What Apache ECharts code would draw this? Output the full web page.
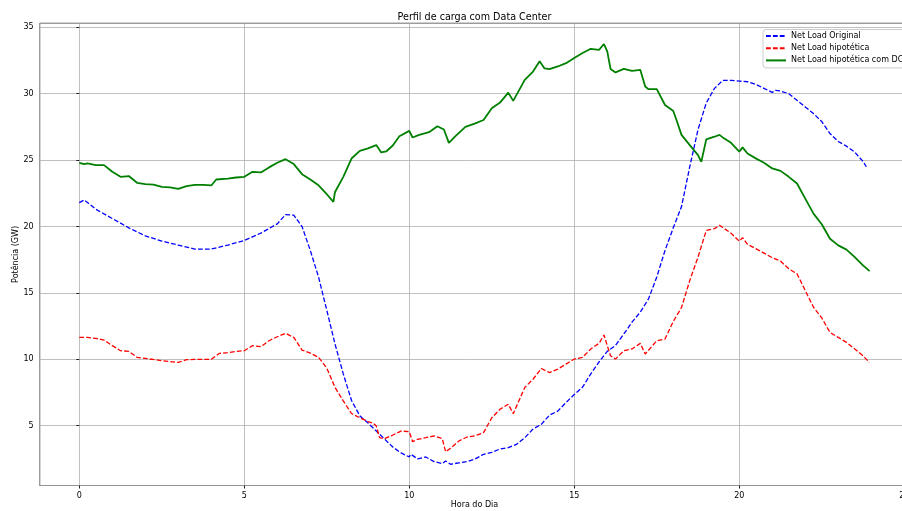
<!DOCTYPE html>
<html>
<head>
<meta charset="utf-8">
<script src="https://cdn.jsdelivr.net/npm/echarts@6/dist/echarts.min.js"></script>
<style>
html,body{margin:0;padding:0;background:#fff;}
#chart{width:902px;height:511px;}
</style>
</head>
<body>
<div id="chart"></div>
<script>
// ---- Data ----
const titleText = 'Perfil de carga com Data Center';
const xAxisName = 'Hora do Dia';
const yAxisName = 'Potência (GW)';
const seriesNames = ['Net Load Original', 'Net Load hipotética', 'Net Load hipotética com DC'];

const hoursOriginal = [0,0.15,0.5,1,1.5,2,2.5,3,3.5,4,4.5,5,5.5,6,6.25,6.5,6.75,7,7.25,7.5,7.75,8,8.25,8.5,8.75,9,9.25,9.5,9.75,10,10.05,10.25,10.5,10.75,11,11.1,11.25,11.5,11.75,12,12.25,12.5,12.75,13,13.25,13.5,13.75,14,14.25,14.5,14.75,15,15.25,15.5,15.75,16,16.25,16.5,16.75,17,17.25,17.5,17.75,18,18.25,18.5,18.75,19,19.25,19.5,19.75,20,20.25,20.5,20.75,21,21.1,21.25,21.5,21.75,22,22.25,22.5,22.75,23,23.25,23.5,23.75,23.85];
const loadOriginal = [21.8,22.0,21.3,20.6,19.9,19.3,18.9,18.6,18.3,18.3,18.6,18.95,19.5,20.2,20.9,20.85,20.0,18.2,16.2,13.7,11.15,8.9,6.9,5.75,5.2,4.6,4.0,3.4,2.95,2.65,2.85,2.5,2.65,2.3,2.15,2.35,2.1,2.2,2.3,2.5,2.85,3.0,3.25,3.35,3.6,4.1,4.75,5.1,5.8,6.1,6.75,7.35,7.9,8.9,9.8,10.6,11.05,11.9,12.8,13.55,14.55,16.2,18.2,19.9,21.5,24.5,27.3,29.3,30.4,31.0,31.0,30.95,30.9,30.7,30.4,30.1,30.25,30.2,30.0,29.5,29.0,28.5,27.9,27.0,26.4,26.05,25.6,24.9,24.5];

const hoursHypo = [0,0.25,0.5,0.75,1,1.25,1.5,1.75,2,2.5,3,3.25,3.5,4,4.25,4.5,4.75,5,5.25,5.5,5.75,6,6.25,6.5,6.75,7,7.25,7.5,7.75,8,8.25,8.5,8.75,8.9,9,9.1,9.25,9.5,9.75,10,10.1,10.25,10.5,10.75,11,11.1,11.25,11.5,11.75,12,12.25,12.5,12.75,13,13.15,13.5,13.75,14,14.25,14.5,14.75,15,15.25,15.5,15.75,15.9,16,16.1,16.25,16.5,16.75,17,17.15,17.5,17.75,18,18.25,18.5,18.75,19,19.25,19.4,19.5,19.75,20,20.1,20.25,20.5,20.75,21,21.25,21.5,21.75,22,22.25,22.5,22.75,23,23.25,23.5,23.75,23.94];
const loadHypo = [11.65,11.65,11.58,11.45,11.03,10.65,10.6,10.15,10.07,9.9,9.77,9.97,10.0,10.0,10.45,10.5,10.6,10.65,11.03,10.95,11.4,11.7,11.96,11.65,10.7,10.47,10.15,9.34,7.88,6.87,5.92,5.6,5.31,5.2,4.98,4.1,4.03,4.3,4.6,4.55,3.8,3.98,4.1,4.23,4.03,3.04,3.3,3.85,4.15,4.25,4.48,5.6,6.24,6.62,5.9,7.88,8.5,9.31,9.0,9.26,9.64,10.02,10.15,10.78,11.2,11.83,11.03,10.27,10.02,10.65,10.78,11.2,10.4,11.4,11.53,12.85,13.9,15.94,17.7,19.7,19.84,20.1,19.92,19.5,18.9,19.16,18.66,18.33,18.0,17.65,17.4,16.82,16.44,15.18,13.92,13.12,12.03,11.65,11.28,10.78,10.27,9.77];

const hoursDC = [0,0.15,0.25,0.5,0.75,1,1.25,1.5,1.75,2,2.25,2.5,2.75,3,3.25,3.5,3.75,4,4.15,4.5,4.75,5,5.25,5.5,5.75,6,6.25,6.5,6.75,7,7.25,7.5,7.7,7.75,8,8.25,8.5,8.75,9,9.15,9.3,9.5,9.7,10,10.1,10.3,10.6,10.85,11.05,11.2,11.4,11.7,12,12.25,12.5,12.75,13,13.15,13.5,13.75,13.95,14.1,14.25,14.5,14.75,15,15.25,15.5,15.75,15.9,16,16.1,16.25,16.5,16.75,17,17.15,17.25,17.5,17.75,18,18.1,18.25,18.5,18.75,18.85,19,19.25,19.4,19.5,19.75,20,20.1,20.25,20.5,20.75,21,21.25,21.5,21.75,22,22.25,22.5,22.75,23,23.25,23.5,23.75,23.95];
const loadDC = [24.8,24.7,24.75,24.62,24.62,24.12,23.74,23.8,23.29,23.19,23.16,22.98,22.94,22.83,23.04,23.13,23.13,23.09,23.54,23.61,23.69,23.74,24.12,24.07,24.45,24.8,25.07,24.7,23.94,23.54,23.1,22.43,21.85,22.6,23.74,25.12,25.7,25.88,26.13,25.58,25.65,26.1,26.8,27.2,26.7,26.9,27.1,27.55,27.3,26.3,26.8,27.5,27.77,28.02,28.9,29.33,30.08,29.46,31.04,31.67,32.45,31.9,31.85,32.05,32.3,32.68,33.06,33.38,33.3,33.74,33.18,31.85,31.6,31.87,31.72,31.8,30.54,30.34,30.34,29.15,28.7,28.0,26.9,26.13,25.38,24.87,26.56,26.76,26.9,26.71,26.3,25.63,25.96,25.5,25.13,24.8,24.37,24.19,23.74,23.24,22.1,20.97,20.17,19.08,18.58,18.26,17.7,17.07,16.64];

const xMin = -1.2, xMax = 25.15, yMin = 0.5, yMax = 35.3;

// ---- Chart ----
const zip = (xs, ys) => xs.map((x, i) => [x, ys[i]]);
const chart = echarts.init(document.getElementById('chart'), null, {renderer: 'canvas'});
const font = 'DejaVu Sans';
const fs = 8;
const gridLeft = 39.7, gridTop = 23.3, gridW = 869.5, gridH = 462.2;
const option = {
  animation: false,
  backgroundColor: '#ffffff',
  textStyle: {fontFamily: font},
  graphic: [{
    type: 'text', x: gridLeft + gridW / 2, y: 12,
    style: {text: titleText, font: '9.6px "DejaVu Sans"', fill: '#000', align: 'center', textAlign: 'center'}
  }],
  legend: {
    orient: 'vertical', left: 763, top: 29.5,
    data: seriesNames,
    itemWidth: 20, itemHeight: 7, itemGap: 4.2,
    padding: [2.5, 6, 3.5, 2],
    itemStyle: {opacity: 0},
    backgroundColor: 'rgba(255,255,255,0.8)', borderColor: '#cccccc', borderWidth: 1, borderRadius: 3,
    textStyle: {fontFamily: font, fontSize: fs, color: '#000'}
  },
  grid: {left: gridLeft, top: gridTop, width: gridW, height: gridH, show: true, borderColor: '#222', borderWidth: 1,
         containLabel: false, outerBoundsMode: 'none'},
  xAxis: {
    type: 'value', min: xMin, max: xMax,
    name: xAxisName, nameLocation: 'middle', nameGap: 15, nameMoveOverlap: false,
    nameTextStyle: {fontFamily: font, fontSize: fs, color: '#000'},
    axisLine: {show: false},
    axisTick: {show: true, length: 3, lineStyle: {color: '#222'}},
    axisLabel: {showMinLabel: false, showMaxLabel: false, fontFamily: font, fontSize: fs, color: '#000', margin: 6},
    splitLine: {show: true, lineStyle: {color: '#b0b0b0', width: 0.8}}
  },
  yAxis: {
    type: 'value', min: yMin, max: yMax,
    name: yAxisName, nameLocation: 'middle', nameGap: 20, nameRotate: 90, nameMoveOverlap: false,
    nameTextStyle: {fontFamily: font, fontSize: fs, color: '#000'},
    axisLine: {show: false},
    axisTick: {show: true, length: 3, lineStyle: {color: '#222'}},
    axisLabel: {showMinLabel: false, showMaxLabel: false, fontFamily: font, fontSize: fs, color: '#000', margin: 6},
    splitLine: {show: true, lineStyle: {color: '#b0b0b0', width: 0.8}}
  },
  series: [
    {name: seriesNames[0], type: 'line', data: zip(hoursOriginal, loadOriginal), symbol: 'none', smooth: false,
     lineStyle: {color: '#0000ff', width: 1.3, type: [4.8, 2.1]}, itemStyle: {color: '#0000ff'}},
    {name: seriesNames[1], type: 'line', data: zip(hoursHypo, loadHypo), symbol: 'none', smooth: false,
     lineStyle: {color: '#ff0000', width: 1.3, type: [4.8, 2.1]}, itemStyle: {color: '#ff0000'}},
    {name: seriesNames[2], type: 'line', data: zip(hoursDC, loadDC), symbol: 'none', smooth: false,
     lineStyle: {color: '#008000', width: 1.8, type: 'solid'}, itemStyle: {color: '#008000'}}
  ]
};
chart.setOption(option);
</script>
</body>
</html>
